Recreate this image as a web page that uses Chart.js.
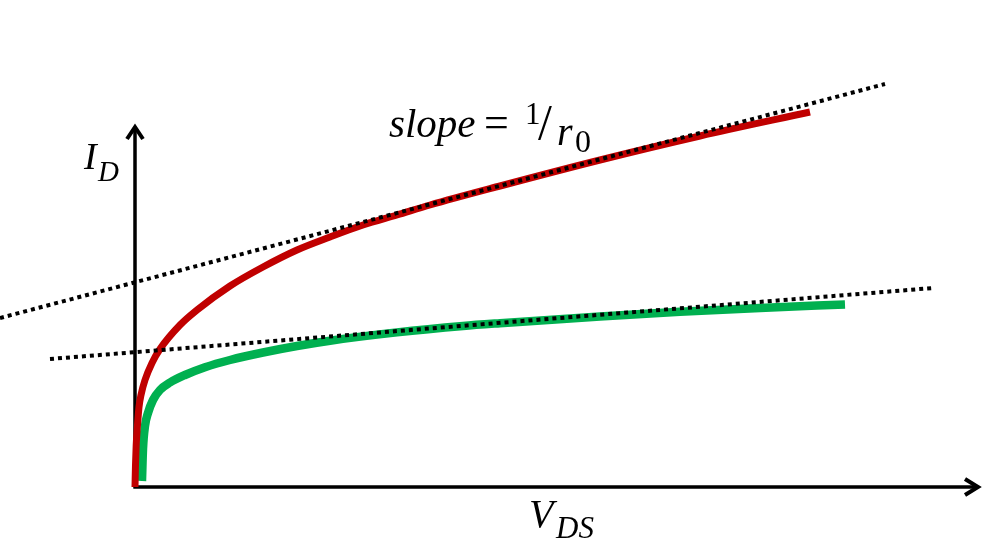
<!DOCTYPE html>
<html>
<head>
<meta charset="utf-8">
<script src="https://cdn.jsdelivr.net/npm/chart.js@4"></script>
<style>
  html, body { margin: 0; padding: 0; background: #ffffff; }
  #wrap { width: 1000px; height: 546px; }
</style>
</head>
<body>
<div id="wrap"><canvas id="c" width="1000" height="546"></canvas></div>
<script>
// Data (V_DS on x, I_D on y, arbitrary units, origin at axis corner)
const redX   = [0, 0.5, 1.2, 2.5, 4, 6, 10, 17, 25, 45, 62, 95, 128, 162, 195, 228, 262, 295, 365, 465, 565, 675];
const redY   = [0, 22, 42, 62, 80, 92, 107, 124, 138, 162, 177, 201, 220, 237, 250, 262, 272, 282, 301, 327, 351, 375];
const greenX = [7, 8, 10, 13, 18, 25, 35, 50, 70, 95, 128, 162, 195, 262, 328, 365, 465, 545, 625, 710];
const greenY = [6, 38, 61, 74, 87, 97, 104.5, 112, 119.8, 127, 134.5, 141, 146.3, 154.6, 161, 163.8, 170.6, 175.2, 179, 182.6];
const upperTanX = [-135, 750];
const upperTanY = [169, 403];
const lowerTanX = [-85, 798];
const lowerTanY = [128, 199];
const axisXEnd = 845;
const axisYEnd = 362;

const pts = (xs, ys) => xs.map((x, i) => ({ x: x, y: ys[i] }));

const axesPlugin = {
  id: 'axesPlugin',
  beforeDatasetsDraw(chart) {
    const ctx = chart.ctx;
    const xs = chart.scales.x, ys = chart.scales.y;
    const ox = xs.getPixelForValue(0), oy = ys.getPixelForValue(0);
    const xe = xs.getPixelForValue(axisXEnd), ye = ys.getPixelForValue(axisYEnd);
    ctx.save();
    ctx.strokeStyle = '#000';
    ctx.lineWidth = 3.5;
    ctx.lineCap = 'butt';
    ctx.beginPath();
    ctx.moveTo(ox, oy + 1.5); ctx.lineTo(ox, ye + 2);
    ctx.moveTo(ox - 1.5, oy); ctx.lineTo(xe - 2, oy);
    ctx.stroke();
    ctx.lineJoin = 'miter';
    ctx.lineWidth = 4;
    ctx.beginPath();
    ctx.moveTo(ox - 8, ye + 14); ctx.lineTo(ox, ye + 2); ctx.lineTo(ox + 8, ye + 14);
    ctx.moveTo(xe - 15, oy - 8); ctx.lineTo(xe - 2, oy); ctx.lineTo(xe - 15, oy + 8);
    ctx.stroke();
    ctx.restore();
  },
  afterDatasetsDraw(chart) {
    const ctx = chart.ctx;
    ctx.save();
    ctx.fillStyle = '#000';
    ctx.textBaseline = 'alphabetic';
    const serif = '"Liberation Serif", "DejaVu Serif", serif';
    // I_D
    ctx.font = 'italic 38px ' + serif;
    ctx.fillText('I', 84, 169);
    ctx.font = 'italic 29px ' + serif;
    ctx.fillText('D', 98, 181);
    // V_DS
    ctx.font = 'italic 40px ' + serif;
    ctx.fillText('V', 529, 527);
    ctx.font = 'italic 31px ' + serif;
    ctx.fillText('DS', 556, 538);
    // slope = 1/r0
    ctx.font = 'italic 41px ' + serif;
    ctx.fillText('slope', 389, 137);
    ctx.font = '44px ' + serif;
    ctx.fillText('=', 484, 137);
    ctx.font = '31px ' + serif;
    ctx.fillText('1', 525, 124);
    ctx.font = '50px ' + serif;
    ctx.fillText('/', 538, 139);
    ctx.font = 'italic 40px ' + serif;
    ctx.fillText('r', 557, 145);
    ctx.font = '32px ' + serif;
    ctx.fillText('0', 575, 152);
    ctx.restore();
  }
};

new Chart(document.getElementById('c'), {
  type: 'scatter',
  data: {
    datasets: [
      { data: pts(upperTanX, upperTanY), showLine: true, borderColor: '#000', borderWidth: 4, borderDash: [4, 4], pointRadius: 0 },
      { data: pts(lowerTanX, lowerTanY), showLine: true, borderColor: '#000', borderWidth: 4, borderDash: [4, 4], pointRadius: 0 },
      { data: pts(redX, redY), showLine: true, borderColor: '#C00000', borderWidth: 7, pointRadius: 0, cubicInterpolationMode: 'monotone' },
      { data: pts(greenX, greenY), showLine: true, borderColor: '#00B050', borderWidth: 8.5, pointRadius: 0, cubicInterpolationMode: 'monotone' }
    ]
  },
  options: {
    responsive: false,
    animation: false,
    layout: { padding: 0 },
    plugins: { legend: { display: false }, tooltip: { enabled: false } },
    scales: {
      x: { type: 'linear', display: false, min: -135, max: 865 },
      y: { type: 'linear', display: false, min: -59, max: 487 }
    }
  },
  plugins: [axesPlugin]
});
</script>
</body>
</html>
